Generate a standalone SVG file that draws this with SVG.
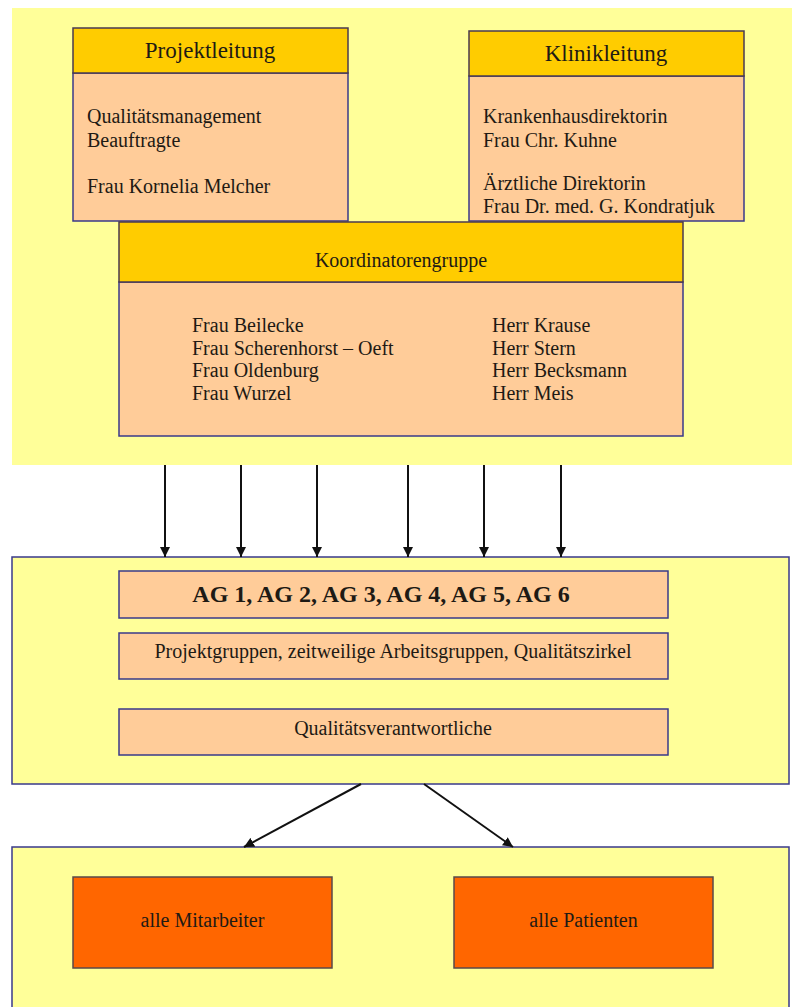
<svg xmlns="http://www.w3.org/2000/svg" width="792" height="1007" viewBox="0 0 792 1007">
<style>
text{font-family:"Liberation Serif","Times New Roman",serif;fill:#1e1a14;font-size:20px}
.title{font-size:23px;text-anchor:middle}
.mid{text-anchor:middle}
.head{fill:#FFCC00;stroke:#4a3a50;stroke-width:1.5}
.body{fill:#FFCC99;stroke:#3a3a8a;stroke-width:1.5}
.zone{fill:#FFFF99;stroke:#3a3a8a;stroke-width:1.5}
.inner{fill:#FFCC99;stroke:#3a3a8a;stroke-width:1.5}
.orange{fill:#FF6600;stroke:#5a4a4a;stroke-width:1.5}
.conn{stroke:#111;stroke-width:2;fill:none}
</style>
<defs>
<marker id="ah" markerWidth="10" markerHeight="10" refX="10" refY="5" orient="auto" markerUnits="userSpaceOnUse">
<path d="M0,0 L10,5 L0,10 z" fill="#111"/>
</marker>
</defs>
<rect x="0" y="0" width="792" height="1007" fill="#ffffff"/>
<rect id="top-zone" x="12" y="8" width="780" height="457" fill="#FFFF99"/>

<g id="projektleitung">
<rect class="body" x="73" y="73" width="275" height="148"/>
<rect class="head" x="73" y="28" width="275" height="45"/>
<text class="title" x="210" y="58">Projektleitung</text>
<text x="87" y="123">Qualitätsmanagement</text>
<text x="87" y="147">Beauftragte</text>
<text x="87" y="193">Frau Kornelia Melcher</text>
</g>

<g id="klinikleitung">
<rect class="body" x="469" y="76" width="275" height="145"/>
<rect class="head" x="469" y="31" width="275" height="45"/>
<text class="title" x="606" y="61">Klinikleitung</text>
<text x="483" y="123">Krankenhausdirektorin</text>
<text x="483" y="147">Frau Chr. Kuhne</text>
<text x="483" y="190">Ärztliche Direktorin</text>
<text x="483" y="213">Frau Dr. med. G. Kondratjuk</text>
</g>

<g id="koordinatorengruppe">
<rect class="body" x="119" y="282" width="564" height="154"/>
<rect class="head" x="119" y="222" width="564" height="60"/>
<text class="mid" x="401" y="267">Koordinatorengruppe</text>
<text x="192" y="332">Frau Beilecke</text>
<text x="192" y="355">Frau Scherenhorst – Oeft</text>
<text x="192" y="377">Frau Oldenburg</text>
<text x="192" y="400">Frau Wurzel</text>
<text x="492" y="332">Herr Krause</text>
<text x="492" y="355">Herr Stern</text>
<text x="492" y="377">Herr Becksmann</text>
<text x="492" y="400">Herr Meis</text>
</g>

<g id="arbeitsebene">
<rect class="zone" x="12" y="557" width="777" height="227"/>
<g id="ag">
<rect class="inner" x="119" y="571" width="549" height="47"/>
<text class="mid" x="381" y="602" style="font-weight:bold;font-size:24px">AG 1, AG 2, AG 3, AG 4, AG 5, AG 6</text>
</g>
<g id="projektgruppen">
<rect class="inner" x="119" y="633" width="549" height="46"/>
<text class="mid" x="393" y="658">Projektgruppen, zeitweilige Arbeitsgruppen, Qualitätszirkel</text>
</g>
<g id="qualitaetsverantwortliche">
<rect class="inner" x="119" y="709" width="549" height="46"/>
<text class="mid" x="393" y="735">Qualitätsverantwortliche</text>
</g>
</g>

<g id="zielgruppen">
<rect class="zone" x="12" y="847" width="777" height="175"/>
<g id="mitarbeiter">
<rect class="orange" x="73" y="877" width="259" height="91"/>
<text class="mid" x="202.5" y="927">alle Mitarbeiter</text>
</g>
<g id="patienten">
<rect class="orange" x="454" y="877" width="259" height="91"/>
<text class="mid" x="583.5" y="927">alle Patienten</text>
</g>
</g>

<g id="connectors">
<line class="conn" x1="165" y1="465" x2="165" y2="557" marker-end="url(#ah)"/>
<line class="conn" x1="241" y1="465" x2="241" y2="557" marker-end="url(#ah)"/>
<line class="conn" x1="317" y1="465" x2="317" y2="557" marker-end="url(#ah)"/>
<line class="conn" x1="408" y1="465" x2="408" y2="557" marker-end="url(#ah)"/>
<line class="conn" x1="484" y1="465" x2="484" y2="557" marker-end="url(#ah)"/>
<line class="conn" x1="561" y1="465" x2="561" y2="557" marker-end="url(#ah)"/>
<line class="conn" x1="361" y1="784" x2="244" y2="847" marker-end="url(#ah)"/>
<line class="conn" x1="424" y1="784" x2="513" y2="847" marker-end="url(#ah)"/>
</g>
</svg>
